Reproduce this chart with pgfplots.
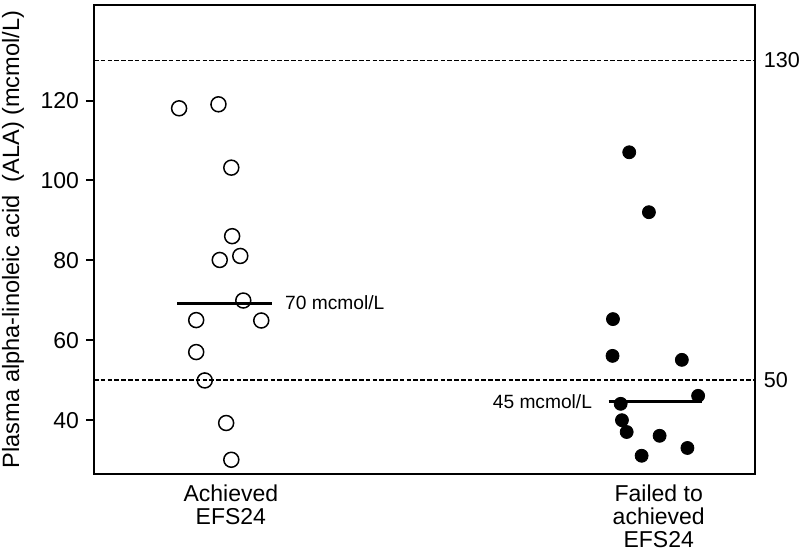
\documentclass[border=0pt]{standalone}
\usepackage{pgfplots}
\pgfplotsset{compat=1.18}
\usepackage{fontspec}
\setmainfont{Liberation Sans}
\begin{document}
\begin{tikzpicture}
\begin{axis}[
  scale only axis, width=330.5pt, height=234.5pt,
  xmin=0.68, xmax=2.224, ymin=26.6, ymax=143.9,
  axis line style={line width=1pt},
  xtick={1,2},
  xticklabels={{Achieved\\EFS24},{Failed to\\achieved\\EFS24}},
  xticklabel style={align=center, font=\fontsize{11.5}{11.5}\selectfont, yshift=2pt},
  xtick pos=bottom,
  x tick style={draw=none},
  ytick={40,60,80,100,120},
  ytick pos=left,
  y tick style={line width=1pt, black},
  tick align=outside, major tick length=4pt,
  yticklabel style={font=\fontsize{11.5}{13}\selectfont},
  /pgf/number format/assume math mode=true,
  ylabel={Plasma alpha-linoleic acid\ \ (ALA) (mcmol/L)},
  every axis y label/.style={at={(axis description cs:-0.1224,0.5)}, rotate=90, anchor=center, inner sep=0pt, font=\fontsize{11.8}{14}\selectfont},
  clip=false,
]
% reference lines
\addplot[black, line width=0.9pt, dash pattern=on 2.3pt off 1.1pt] coordinates {(0.68,130) (2.224,130)};
\addplot[black, line width=0.9pt, dash pattern=on 2.3pt off 1.1pt] coordinates {(0.68,50) (2.224,50)};
% medians
\addplot[black, line width=1.5pt] coordinates {(0.875,69.3) (1.095,69.3)};
\addplot[black, line width=1.5pt] coordinates {(1.883,44.7) (2.100,44.7)};
% Achieved EFS24
\addplot[only marks, mark=o, mark size=3.75pt, mark options={line width=0.75pt, black}] table {
x y
0.879 118.05
0.971 119.05
1.001 103.2
1.003 86.05
0.974 80.1
1.022 81.1
1.029 69.95
0.919 65.05
1.071 64.95
0.919 57.05
0.939 49.95
0.989 39.3
1.001 30.1
};
% Failed to achieve EFS24
\addplot[only marks, mark=*, mark size=3.25pt, mark options={black, fill=black}] table {
x y
1.931 107.05
1.977 92.05
1.893 65.3
1.892 56.1
2.054 55.1
2.092 46.1
1.911 44.1
1.914 40.0
1.925 37.05
2.002 36.1
2.067 33.05
1.960 31.1
};
\node[anchor=west, inner sep=0pt, font=\fontsize{9.6}{11}\selectfont] at (axis cs:1.126,69.3) {70 mcmol/L};
\node[anchor=east, inner sep=0pt, font=\fontsize{9.6}{11}\selectfont] at (axis cs:1.845,44.7) {45 mcmol/L};
\node[anchor=west, inner sep=0pt, xshift=4.5pt, font=\fontsize{10.8}{13}\selectfont] at (axis cs:2.224,130) {130};
\node[anchor=west, inner sep=0pt, xshift=4.5pt, font=\fontsize{10.8}{13}\selectfont] at (axis cs:2.224,50) {50};
\end{axis}
\path[use as bounding box] ([shift={(-47pt,-40pt)}]current axis.south west) rectangle ([shift={(22.5pt,2.5pt)}]current axis.north east);
\end{tikzpicture}
\end{document}
